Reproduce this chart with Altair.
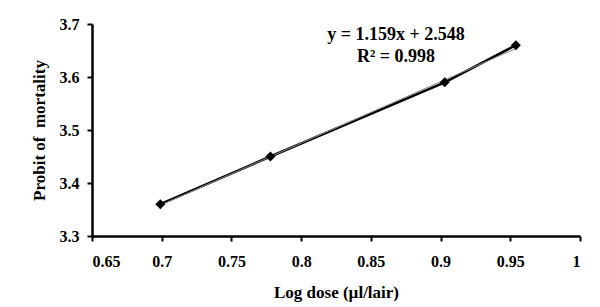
import altair as alt
import pandas as pd

log_dose = [0.699, 0.778, 0.903, 0.954]
probit = [3.36, 3.45, 3.59, 3.66]
slope = 1.159
intercept = 2.548
eq_lines = ["y = 1.159x + 2.548", "R² = 0.998"]
eq_y = [3.679, 3.638]
eq_x = [0.868, 0.868]

df = pd.DataFrame({"x": log_dose, "y": probit})
trend = pd.DataFrame({"x": [min(log_dose), max(log_dose)]})
trend["y"] = slope * trend["x"] + intercept
labels = pd.DataFrame({"x": eq_x, "y": eq_y, "t": eq_lines})

FONT = "Liberation Serif"

xs = alt.X("x:Q", scale=alt.Scale(domain=[0.65, 1.0], nice=False, zero=False),
           axis=alt.Axis(title="Log dose (µl/lair)", values=[0.65, 0.7, 0.75, 0.8, 0.85, 0.9, 0.95, 1.0],
                         format="~g", grid=False, domainWidth=2.5, tickWidth=2, tickSize=5,
                         domainColor="black", tickColor="black",
                         labelFont=FONT, labelFontWeight="bold", labelFontSize=16, labelColor="black",
                         labelPadding=12,
                         titleFont=FONT, titleFontWeight="bold", titleFontSize=17, titleColor="black",
                         titlePadding=15))
ys = alt.Y("y:Q", scale=alt.Scale(domain=[3.3, 3.7], nice=False, zero=False),
           axis=alt.Axis(title="Probit of\u00a0 mortality", values=[3.3, 3.4, 3.5, 3.6, 3.7],
                         format=".1f", grid=False, domainWidth=2.5, tickWidth=2, tickSize=5,
                         domainColor="black", tickColor="black",
                         labelFont=FONT, labelFontWeight="bold", labelFontSize=16, labelColor="black",
                         labelPadding=8,
                         titleFont=FONT, titleFontWeight="bold", titleFontSize=17, titleColor="black",
                         titlePadding=11))

line = alt.Chart(df).mark_line(color="black", strokeWidth=2.5).encode(x=xs, y=ys)
pts = alt.Chart(df).mark_point(shape="diamond", filled=True, color="black", size=100, opacity=1).encode(x=xs, y=ys)
tl = alt.Chart(trend).mark_line(color="#888888", strokeWidth=1).encode(x=xs, y=ys)
txt = alt.Chart(labels).mark_text(font=FONT, fontWeight="bold", fontSize=18, color="black").encode(
    x=xs, y=ys, text="t:N")

chart = alt.layer(line, tl, pts, txt).properties(
    width=488, height=212,
    padding={"left": 84, "top": 16, "right": 12, "bottom": 70},
    autosize=alt.AutoSizeParams(type="none"),
).configure_view(stroke=None)

chart.save("out.html", embed_options={"renderer": "svg", "actions": False})
